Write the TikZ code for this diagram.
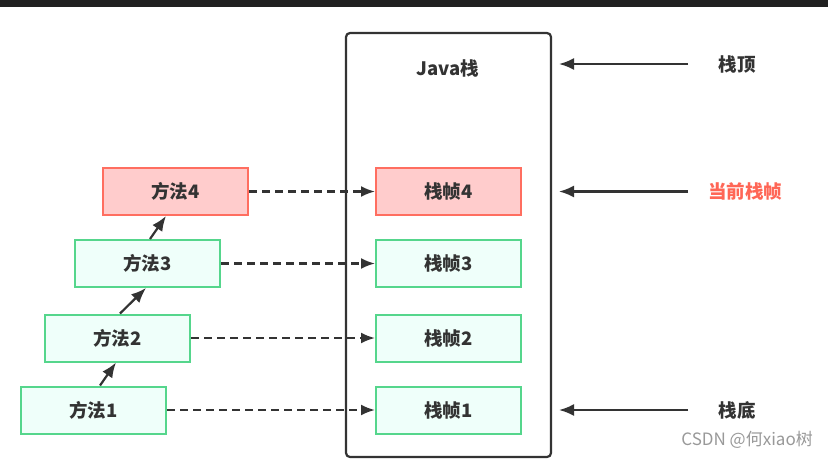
\documentclass[tikz,border=0pt]{standalone}
\usepackage{fontspec}
\setmainfont{Noto Sans CJK SC}
\usetikzlibrary{arrows.meta}
\definecolor{txt}{HTML}{333333}
\definecolor{gline}{HTML}{55D68C}
\definecolor{gfill}{HTML}{EFFFFA}
\definecolor{rline}{HTML}{FF6E60}
\definecolor{rfill}{HTML}{FFCCCC}
\definecolor{rtxt}{HTML}{FF6656}
\begin{document}
\begin{tikzpicture}[x=1pt,y=-1pt,
  gbox/.style={draw=gline,fill=gfill,line width=2pt,minimum width=145pt,minimum height=47pt,inner sep=0pt,text=txt,font=\fontsize{18.5}{21}\selectfont\bfseries},
  rbox/.style={gbox,draw=rline,fill=rfill},
  lbl/.style={text=txt,font=\fontsize{18.5}{21}\selectfont\bfseries},
  solidarr/.style={draw=txt,line width=2.2pt,-{Latex[length=15pt,width=12pt]}},
  dasharr/.style={draw=txt,line width=2.2pt,dash pattern=on 8pt off 5pt,-{Latex[length=14pt,width=11pt]}}]
\useasboundingbox (0,0) rectangle (828,459);
\fill[white] (0,0) rectangle (828,459);
\fill[black!87] (0,0) rectangle (828,7);
% Java stack
\draw[txt,line width=2.2pt,rounded corners=4pt] (346,33) rectangle (551,457);
\node[lbl] (java) at (448,68) {Java栈};
% methods
\node[gbox] (m1) at (93.5,410) {方法1};
\node[gbox] (m2) at (117.5,338) {方法2};
\node[gbox] (m3) at (147.5,263.5) {方法3};
\node[rbox] (m4) at (175.5,191.5) {方法4};
% frames
\node[gbox] (f1) at (448.5,410) {栈帧1};
\node[gbox] (f2) at (448.5,338) {栈帧2};
\node[gbox] (f3) at (448.5,263.5) {栈帧3};
\node[rbox] (f4) at (448.5,191.5) {栈帧4};
% method chain
\draw[solidarr] (m1.north -| 100,0) -- (m2.south -| 116,0);
\draw[solidarr] (m2.north -| 120,0) -- (m3.south -| 146,0);
\draw[solidarr] (m3.north -| 150,0) -- (m4.south -| 166,0);
% dashed
\draw[dasharr] (m1) -- (f1);
\draw[dasharr] (m2) -- (f2);
\draw[dasharr] (m3) -- (f3);
\draw[dasharr] (m4) -- (f4);
% right labels
\node[lbl] (top) at (737,64) {栈顶};
\node[lbl,text=rtxt] (cur) at (745,191.5) {当前栈帧};
\node[lbl] (bot) at (737,410) {栈底};
\coordinate (topS) at (688,64);
\coordinate (topE) at (559,64);
\coordinate (curS) at (688,191.5);
\coordinate (curE) at (559,191.5);
\coordinate (botS) at (688,410);
\coordinate (botE) at (559,410);
\draw[solidarr] (topS) -- (topE);
\draw[solidarr] (curS) -- (curE);
\draw[solidarr] (botS) -- (botE);
\node[text=black!40,font=\fontsize{17}{19}\selectfont,anchor=east,inner sep=0pt] (wm) at (813,440) {CSDN @何xiao树};
\end{tikzpicture}
\end{document}
